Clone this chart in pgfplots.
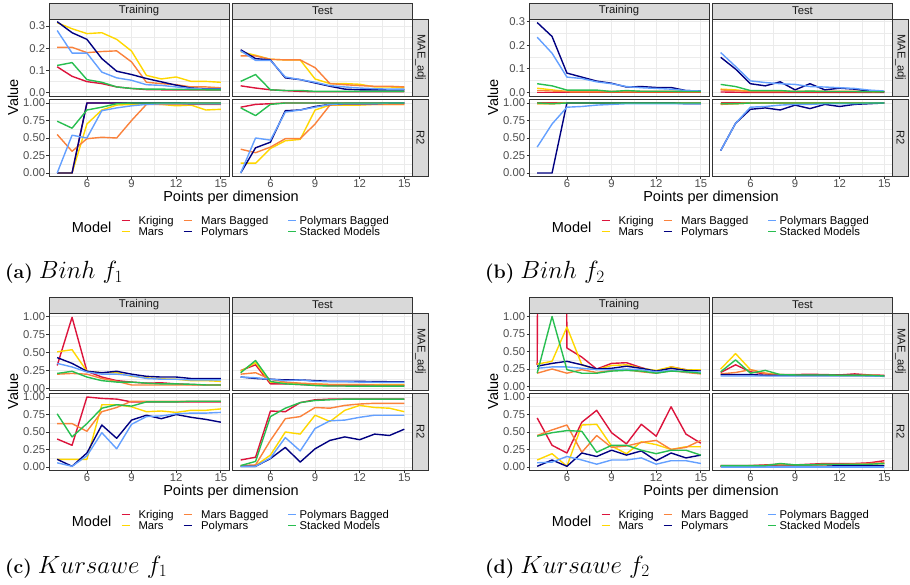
\documentclass[border=0pt]{standalone}
\usepackage{fontspec}
\setsansfont{Liberation Sans}
\usepackage{pgfplots}
\usepackage{pgfplotstable}
\pgfplotsset{compat=1.18}

\definecolor{cKr}{RGB}{220,20,60}
\definecolor{cMa}{RGB}{255,215,0}
\definecolor{cMb}{RGB}{250,130,60}
\definecolor{cPm}{RGB}{0,0,128}
\definecolor{cPb}{RGB}{100,160,255}
\definecolor{cSt}{RGB}{40,190,80}
\definecolor{g10}{RGB}{26,26,26}
\definecolor{g20}{RGB}{51,51,51}
\definecolor{g30}{RGB}{77,77,77}
\definecolor{g85}{RGB}{217,217,217}
\definecolor{g92}{RGB}{235,235,235}

\newcommand\smallfont{\sffamily\fontsize{11.3}{13}\selectfont}
\newcommand\titlefont{\sffamily\fontsize{14.5}{17}\selectfont}
\newcommand\capfont{\rmfamily\fontsize{19.5}{24}\selectfont}
\newcommand\mathcap{\fontsize{24}{28}\selectfont}

% ---------------- data: (a) Binh f1 ----------------
\pgfplotstableread{
x kr ma mb pm pb st
4 0.116 0.315 0.204 0.320 0.280 0.122
5 0.073 0.288 0.204 0.270 0.178 0.135
6 0.049 0.266 0.180 0.240 0.178 0.058
7 0.040 0.270 0.185 0.153 0.092 0.046
8 0.025 0.240 0.188 0.096 0.066 0.025
9 0.018 0.187 0.138 0.081 0.055 0.018
10 0.013 0.077 0.046 0.063 0.035 0.015
11 0.012 0.061 0.040 0.048 0.032 0.015
12 0.012 0.070 0.035 0.033 0.025 0.014
13 0.012 0.050 0.025 0.020 0.018 0.013
14 0.012 0.050 0.025 0.016 0.015 0.012
15 0.012 0.046 0.021 0.016 0.015 0.012
}\aTrMAE
\pgfplotstableread{
x kr ma mb pm pb st
4 0.030 0.184 0.165 0.193 0.188 0.050
5 0.020 0.168 0.165 0.153 0.145 0.081
6 0.012 0.150 0.150 0.147 0.145 0.012
7 0.008 0.147 0.147 0.066 0.070 0.009
8 0.005 0.147 0.147 0.058 0.058 0.009
9 0.003 0.061 0.112 0.043 0.046 0.005
10 0.003 0.040 0.040 0.028 0.031 0.005
11 0.003 0.040 0.035 0.015 0.025 0.005
12 0.003 0.037 0.031 0.012 0.020 0.005
13 0.003 0.025 0.028 0.012 0.017 0.005
14 0.003 0.025 0.028 0.012 0.015 0.005
15 0.003 0.021 0.025 0.012 0.015 0.005
}\aTeMAE
\pgfplotstableread{
x kr ma mb pm pb st
4 0.00 0.00 0.55 0.00 0.00 0.74
5 0.00 0.00 0.31 0.00 0.54 0.64
6 1.00 0.70 0.49 1.00 0.50 0.90
7 1.00 0.90 0.51 1.00 0.89 0.94
8 1.00 0.97 0.50 1.00 0.93 0.99
9 1.00 0.98 0.75 1.00 0.96 1.00
10 1.00 0.99 0.98 1.00 0.98 1.00
11 1.00 0.98 0.98 1.00 0.99 1.00
12 1.00 0.96 0.98 1.00 0.99 1.00
13 1.00 0.97 0.98 0.99 0.99 1.00
14 1.00 0.90 0.98 0.99 0.99 1.00
15 1.00 0.91 0.98 0.99 0.99 1.00
}\aTrRR
\pgfplotstableread{
x kr ma mb pm pb st
4 0.94 0.14 0.34 0.00 0.00 0.93
5 0.98 0.14 0.29 0.36 0.50 0.82
6 0.99 0.35 0.37 0.44 0.47 0.98
7 1.00 0.46 0.49 0.89 0.87 1.00
8 1.00 0.48 0.49 0.90 0.90 1.00
9 1.00 0.90 0.70 0.95 0.94 1.00
10 1.00 0.97 0.97 0.98 0.98 1.00
11 1.00 0.97 0.98 0.99 0.99 1.00
12 1.00 0.97 0.98 0.99 0.99 1.00
13 1.00 0.98 0.98 0.99 0.99 1.00
14 1.00 0.98 0.98 1.00 1.00 1.00
15 1.00 0.98 0.98 1.00 1.00 1.00
}\aTeRR
% ---------------- data: (b) Binh f2 ----------------
\pgfplotstableread{
x kr ma mb pm pb st
4 0.000 0.018 0.008 0.296 0.234 0.037
5 0.000 0.011 0.006 0.237 0.166 0.028
6 0.000 0.004 0.005 0.082 0.065 0.010
7 0.000 0.003 0.005 0.065 0.059 0.010
8 0.000 0.003 0.005 0.048 0.045 0.010
9 0.000 0.003 0.005 0.039 0.037 0.004
10 0.000 0.003 0.005 0.023 0.025 0.008
11 0.000 0.003 0.005 0.025 0.020 0.005
12 0.000 0.003 0.005 0.021 0.017 0.005
13 0.000 0.003 0.005 0.021 0.014 0.005
14 0.000 0.003 0.004 0.008 0.008 0.004
15 0.000 0.003 0.004 0.006 0.006 0.004
}\bTrMAE
\pgfplotstableread{
x kr ma mb pm pb st
4 0.002 0.014 0.011 0.149 0.169 0.034
5 0.001 0.011 0.007 0.099 0.110 0.025
6 0.000 0.004 0.005 0.037 0.049 0.008
7 0.000 0.004 0.005 0.028 0.042 0.008
8 0.000 0.004 0.005 0.045 0.037 0.008
9 0.000 0.004 0.005 0.011 0.034 0.004
10 0.000 0.004 0.005 0.037 0.025 0.006
11 0.000 0.004 0.005 0.011 0.023 0.004
12 0.000 0.004 0.005 0.018 0.020 0.004
13 0.000 0.004 0.005 0.014 0.017 0.004
14 0.000 0.004 0.004 0.006 0.010 0.003
15 0.000 0.003 0.004 0.003 0.006 0.003
}\bTeMAE
\pgfplotstableread{
x kr ma mb pm pb st
4 1.00 0.99 0.99 0.00 0.37 1.00
5 1.00 0.99 0.99 0.00 0.70 0.99
6 1.00 1.00 1.00 1.00 0.94 1.00
7 1.00 1.00 1.00 1.00 0.95 1.00
8 1.00 1.00 1.00 1.00 0.97 1.00
9 1.00 1.00 1.00 1.00 0.98 1.00
10 1.00 1.00 1.00 1.00 0.99 1.00
11 1.00 1.00 1.00 1.00 0.99 1.00
12 1.00 1.00 1.00 1.00 0.99 1.00
13 1.00 1.00 1.00 1.00 0.99 1.00
14 1.00 1.00 1.00 0.99 0.99 1.00
15 1.00 1.00 1.00 0.99 0.99 1.00
}\bTrRR
\pgfplotstableread{
x kr ma mb pm pb st
4 1.00 0.99 0.98 0.32 0.32 0.99
5 1.00 0.99 0.99 0.71 0.71 0.99
6 1.00 1.00 1.00 0.91 0.94 1.00
7 1.00 1.00 1.00 0.93 0.95 1.00
8 1.00 1.00 1.00 0.90 0.97 1.00
9 1.00 1.00 1.00 0.97 0.98 1.00
10 1.00 1.00 1.00 0.92 0.98 1.00
11 1.00 1.00 1.00 0.98 0.99 1.00
12 1.00 1.00 1.00 0.95 0.99 1.00
13 1.00 1.00 1.00 0.98 0.99 1.00
14 1.00 1.00 1.00 0.99 1.00 1.00
15 1.00 1.00 1.00 1.00 1.00 1.00
}\bTeRR
% ---------------- data: (c) Kursawe f1 ----------------
\pgfplotstableread{
x kr ma mb pm pb st
4 0.32 0.51 0.20 0.43 0.35 0.21
5 0.99 0.54 0.21 0.35 0.30 0.24
6 0.24 0.24 0.20 0.24 0.23 0.16
7 0.16 0.22 0.14 0.22 0.20 0.11
8 0.11 0.22 0.10 0.24 0.20 0.09
9 0.09 0.17 0.05 0.20 0.18 0.09
10 0.075 0.15 0.05 0.17 0.14 0.075
11 0.08 0.135 0.05 0.16 0.13 0.065
12 0.065 0.13 0.05 0.16 0.13 0.065
13 0.056 0.11 0.05 0.14 0.12 0.06
14 0.05 0.11 0.05 0.14 0.12 0.05
15 0.05 0.10 0.05 0.14 0.12 0.05
}\cTrMAE
\pgfplotstableread{
x kr ma mb pm pb st
4 0.25 0.24 0.20 0.16 0.16 0.22
5 0.33 0.36 0.22 0.14 0.15 0.39
6 0.065 0.09 0.13 0.13 0.13 0.10
7 0.065 0.08 0.09 0.12 0.11 0.065
8 0.056 0.07 0.075 0.12 0.12 0.056
9 0.047 0.065 0.065 0.11 0.10 0.042
10 0.04 0.056 0.056 0.10 0.095 0.035
11 0.04 0.056 0.056 0.10 0.095 0.035
12 0.04 0.056 0.056 0.10 0.09 0.033
13 0.04 0.056 0.05 0.097 0.088 0.033
14 0.04 0.056 0.05 0.095 0.085 0.033
15 0.04 0.056 0.05 0.095 0.085 0.033
}\cTeMAE
\pgfplotstableread{
x kr ma mb pm pb st
4 0.40 0.11 0.62 0.11 0.06 0.76
5 0.31 0.11 0.62 0.01 0.01 0.43
6 1.00 0.11 0.51 0.20 0.16 0.62
7 0.98 0.89 0.79 0.60 0.49 0.84
8 0.97 0.89 0.85 0.41 0.26 0.89
9 0.93 0.86 0.94 0.67 0.61 0.87
10 0.93 0.79 0.94 0.74 0.72 0.93
11 0.93 0.80 0.94 0.69 0.73 0.93
12 0.93 0.78 0.94 0.75 0.76 0.93
13 0.93 0.81 0.94 0.71 0.77 0.94
14 0.93 0.81 0.94 0.68 0.77 0.94
15 0.93 0.83 0.94 0.64 0.78 0.94
}\cTrRR
\pgfplotstableread{
x kr ma mb pm pb st
4 0.10 0.02 0.02 0.01 0.01 0.02
5 0.14 0.02 0.03 0.01 0.01 0.08
6 0.80 0.17 0.38 0.12 0.13 0.72
7 0.79 0.50 0.69 0.28 0.42 0.84
8 0.92 0.47 0.72 0.07 0.23 0.92
9 0.96 0.74 0.85 0.26 0.55 0.95
10 0.97 0.65 0.84 0.38 0.66 0.96
11 0.97 0.81 0.88 0.43 0.67 0.97
12 0.97 0.88 0.90 0.39 0.71 0.97
13 0.97 0.85 0.91 0.47 0.74 0.97
14 0.97 0.84 0.91 0.45 0.74 0.97
15 0.97 0.79 0.91 0.54 0.74 0.97
}\cTeRR
% ---------------- data: (d) Kursawe f2 ----------------
\pgfplotstableread{
x kr ma mb pm pb st
4 0.31 0.32 0.19 0.29 0.26 0.19
5 40 0.36 0.25 0.33 0.28 1.00
6 0.55 0.85 0.19 0.36 0.28 0.24
7 0.42 0.31 0.24 0.31 0.26 0.19
8 0.25 0.24 0.20 0.25 0.24 0.19
9 0.33 0.30 0.23 0.26 0.24 0.22
10 0.34 0.31 0.24 0.29 0.25 0.23
11 0.27 0.26 0.21 0.26 0.24 0.22
12 0.21 0.23 0.19 0.22 0.21 0.19
13 0.28 0.28 0.23 0.26 0.23 0.22
14 0.24 0.24 0.20 0.23 0.21 0.21
15 0.22 0.24 0.18 0.22 0.21 0.19
}\dTrMAE
\pgfplotstableread{
x kr ma mb pm pb st
4 0.20 0.25 0.18 0.17 0.15 0.21
5 0.31 0.47 0.20 0.17 0.15 0.38
6 0.21 0.24 0.24 0.17 0.15 0.19
7 0.18 0.19 0.19 0.16 0.15 0.23
8 0.17 0.17 0.16 0.16 0.15 0.17
9 0.17 0.16 0.16 0.16 0.15 0.165
10 0.175 0.16 0.16 0.16 0.15 0.165
11 0.17 0.16 0.16 0.16 0.15 0.165
12 0.165 0.16 0.16 0.16 0.15 0.16
13 0.18 0.16 0.16 0.16 0.15 0.16
14 0.165 0.16 0.16 0.155 0.15 0.16
15 0.16 0.15 0.155 0.15 0.145 0.15
}\dTeMAE
\pgfplotstableread{
x kr ma mb pm pb st
4 0.70 0.10 0.45 0.01 0.06 0.44
5 0.31 0.19 0.53 0.10 0.07 0.49
6 0.20 0.01 0.60 0.01 0.15 0.52
7 0.64 0.60 0.21 0.20 0.10 0.51
8 0.81 0.61 0.45 0.15 0.04 0.21
9 0.49 0.30 0.28 0.24 0.10 0.31
10 0.33 0.19 0.30 0.17 0.10 0.31
11 0.61 0.36 0.35 0.23 0.13 0.24
12 0.44 0.32 0.38 0.09 0.04 0.19
13 0.86 0.25 0.25 0.20 0.09 0.24
14 0.47 0.29 0.28 0.13 0.09 0.24
15 0.34 0.29 0.38 0.17 0.05 0.17
}\dTrRR
\pgfplotstableread{
x kr ma mb pm pb st
4 0.02 0.01 0.01 0.01 0.00 0.02
5 0.02 0.01 0.01 0.01 0.00 0.02
6 0.02 0.01 0.02 0.01 0.00 0.02
7 0.03 0.02 0.02 0.01 0.00 0.02
8 0.04 0.03 0.03 0.01 0.00 0.05
9 0.03 0.03 0.03 0.01 0.00 0.03
10 0.04 0.03 0.03 0.01 0.00 0.03
11 0.05 0.03 0.04 0.01 0.00 0.04
12 0.05 0.03 0.04 0.02 0.00 0.04
13 0.05 0.04 0.04 0.02 0.00 0.04
14 0.06 0.04 0.05 0.02 0.00 0.04
15 0.09 0.05 0.06 0.02 0.00 0.05
}\dTeRR

\pgfplotsset{
  panel/.style={
    scale only axis, width=180pt, height=77pt, anchor=north west,
    xmin=3.45, xmax=15.55,
    xtick={6,9,12,15}, xticklabels={6,9,12,15},
    minor x tick num=1, minor y tick num=1,
    grid=both,
    major grid style={draw=g92, line width=0.9pt},
    minor grid style={draw=g92, line width=0.45pt},
    axis line style={draw=g20, line width=0.8pt},
    tick align=outside, major tick length=2.5pt, minor tick length=0pt,
    tick style={draw=g20, line width=0.8pt},
    xtick pos=left, ytick pos=left,
    tick label style={font=\smallfont, text=g30},
    xticklabel style={inner ysep=0.5pt},
    yticklabel style={inner xsep=1.2pt},
    every axis plot/.append style={line width=1.4pt, mark=none, line join=round},
  },
  maeA/.style={ymin=-0.016, ymax=0.332, ytick={0,0.1,0.2,0.3}, yticklabels={0.0,0.1,0.2,0.3}},
  maeB/.style={ymin=-0.015, ymax=0.311, ytick={0,0.1,0.2,0.3}, yticklabels={0.0,0.1,0.2,0.3}},
  maeC/.style={ymin=-0.02, ymax=1.05, ytick={0,0.25,0.5,0.75,1}, yticklabels={0.00,0.25,0.50,0.75,1.00}},
  maeD/.style={ymin=-0.05, ymax=1.05, ytick={0,0.25,0.5,0.75,1}, yticklabels={0.00,0.25,0.50,0.75,1.00}},
  rr/.style={ymin=-0.05, ymax=1.05, ytick={0,0.25,0.5,0.75,1}, yticklabels={0.00,0.25,0.50,0.75,1.00}},
  noy/.style={yticklabels={}, ytick style={draw=none}},
  nox/.style={xticklabels={}, xtick style={draw=none}},
}

\newcommand\six[1]{%
  \addplot[cKr] table[x=x,y=kr]{#1};
  \addplot[cMa] table[x=x,y=ma]{#1};
  \addplot[cMb] table[x=x,y=mb]{#1};
  \addplot[cPm] table[x=x,y=pm]{#1};
  \addplot[cPb] table[x=x,y=pb]{#1};
  \addplot[cSt] table[x=x,y=st]{#1};
}

% #1 dx, #2 dy, #3 MAE style, #4-#7 tables, #8 caption
\newcommand\facet[8]{%
  \begin{axis}[panel,#3,nox,at={({#1pt+49pt},{-#2pt-19pt})}] \six{#4} \end{axis}
  \begin{axis}[panel,#3,nox,noy,at={({#1pt+232.5pt},{-#2pt-19pt})}] \six{#5} \end{axis}
  \begin{axis}[panel,rr,at={({#1pt+49pt},{-#2pt-99.5pt})}] \six{#6} \end{axis}
  \begin{axis}[panel,rr,noy,at={({#1pt+232.5pt},{-#2pt-99.5pt})}] \six{#7} \end{axis}
  \begin{scope}[shift={(#1pt,-#2pt)}]
    \draw[fill=g85, draw=g20, line width=0.8pt] (49pt,-3pt) rectangle (229pt,-19pt);
    \draw[fill=g85, draw=g20, line width=0.8pt] (232.5pt,-3pt) rectangle (412.5pt,-19pt);
    \draw[fill=g85, draw=g20, line width=0.8pt] (412.5pt,-19pt) rectangle (428.5pt,-96pt);
    \draw[fill=g85, draw=g20, line width=0.8pt] (412.5pt,-99.5pt) rectangle (428.5pt,-176.5pt);
    \node[font=\smallfont, text=g10] at (139pt,-11pt) {Training};
    \node[font=\smallfont, text=g10] at (322.5pt,-11pt) {Test};
    \node[font=\smallfont, text=g10, rotate=-90] at (420.5pt,-57.5pt) {MAE\_adj};
    \node[font=\smallfont, text=g10, rotate=-90] at (420.5pt,-138pt) {R2};
    \node[font=\titlefont] at (231pt,-197.5pt) {Points per dimension};
    \node[font=\titlefont, rotate=90] at (13pt,-97.5pt) {Value};
    \node[font=\titlefont, anchor=base west, inner sep=0pt] at (71.7pt,-232.7pt) {Model};
    \draw[cKr, line width=1.4pt] (121.7pt,-220.7pt) -- (130pt,-220.7pt);
    \draw[cMa, line width=1.4pt] (121.7pt,-231.3pt) -- (130pt,-231.3pt);
    \draw[cMb, line width=1.4pt] (183.5pt,-220.7pt) -- (192pt,-220.7pt);
    \draw[cPm, line width=1.4pt] (183.5pt,-231.3pt) -- (192pt,-231.3pt);
    \draw[cPb, line width=1.4pt] (288pt,-220.7pt) -- (296pt,-220.7pt);
    \draw[cSt, line width=1.4pt] (288pt,-231.3pt) -- (296pt,-231.3pt);
    \node[font=\smallfont, anchor=base west, inner sep=0pt] at (138.3pt,-224.6pt) {Kriging};
    \node[font=\smallfont, anchor=base west, inner sep=0pt] at (138.3pt,-235.2pt) {Mars};
    \node[font=\smallfont, anchor=base west, inner sep=0pt] at (201pt,-224.6pt) {Mars Bagged};
    \node[font=\smallfont, anchor=base west, inner sep=0pt] at (201pt,-235.2pt) {Polymars};
    \node[font=\smallfont, anchor=base west, inner sep=0pt] at (299.5pt,-224.6pt) {Polymars Bagged};
    \node[font=\smallfont, anchor=base west, inner sep=0pt] at (299.5pt,-235.2pt) {Stacked Models};
    \node[font=\capfont, anchor=base west, inner sep=0pt] at (5pt,-279pt) {#8};
  \end{scope}
}

\begin{document}
\begin{tikzpicture}
\useasboundingbox (0pt,0pt) rectangle (910pt,-585pt);
\facet{0}{0}{maeA}{\aTrMAE}{\aTeMAE}{\aTrRR}{\aTeRR}{\textbf{(a)} {\mathcap$Binh\ f_1$}}
\facet{480}{0}{maeB}{\bTrMAE}{\bTeMAE}{\bTrRR}{\bTeRR}{\textbf{(b)} {\mathcap$Binh\ f_2$}}
\facet{0}{294}{maeC}{\cTrMAE}{\cTeMAE}{\cTrRR}{\cTeRR}{\textbf{(c)} {\mathcap$Kursawe\ f_1$}}
\facet{480}{294}{maeD}{\dTrMAE}{\dTeMAE}{\dTrRR}{\dTeRR}{\textbf{(d)} {\mathcap$Kursawe\ f_2$}}
\end{tikzpicture}
\end{document}
